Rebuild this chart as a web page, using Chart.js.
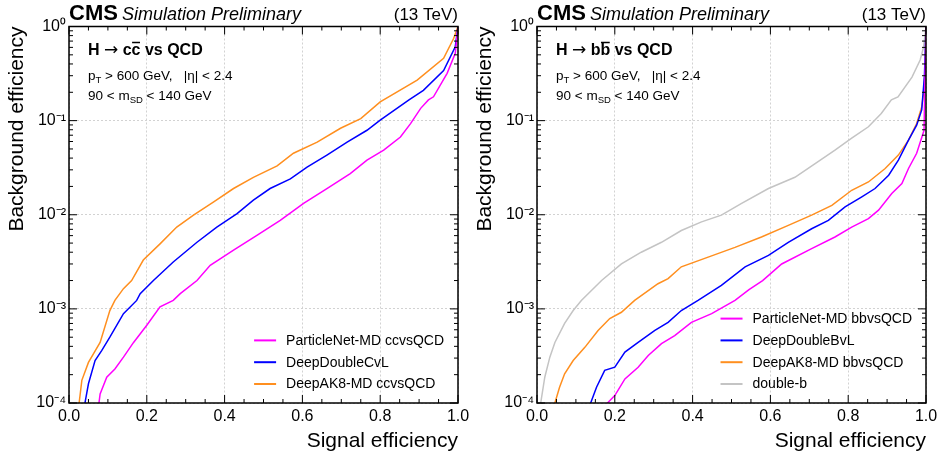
<!DOCTYPE html>
<html><head><meta charset="utf-8">
<script src="https://cdn.jsdelivr.net/npm/chart.js@4.4.1/dist/chart.umd.min.js"></script>
<style>
html,body{margin:0;padding:0;background:#fff;}
#wrap{position:relative;width:938px;height:456px;overflow:hidden;background:#fff;}
.p{position:absolute;top:0;width:469px;height:456px;}
</style></head><body>
<div id="wrap">
<div class="p" style="left:0"><canvas id="c1" width="469" height="456"></canvas></div>
<div class="p" style="left:468px"><canvas id="c2" width="469" height="456"></canvas></div>
</div>
<script>
// ---------- data ----------
const xTickValues = [0, 0.2, 0.4, 0.6, 0.8, 1.0];
const yTickValues = [1e-4, 1e-3, 1e-2, 1e-1, 1];
const xTitle = 'Signal efficiency';
const yTitle = 'Background efficiency';

// H -> cc vs QCD
const ccLabels = ['ParticleNet-MD ccvsQCD', 'DeepDoubleCvL', 'DeepAK8-MD ccvsQCD'];
const ccPNetSig = [0.074,0.077,0.080,0.097,0.118,0.140,0.166,0.200,0.234,0.268,0.286,0.329,0.363,0.423,0.483,0.543,0.603,0.663,0.723,0.766,0.809,0.852,0.878,0.904,0.924,0.937,0.972,0.993,1.0];
const ccPNetBkg = [7e-5,1e-4,1.25e-4,1.88e-4,2.3e-4,3.07e-4,4.4e-4,6.7e-4,1.05e-3,1.23e-3,1.45e-3,2.0e-3,2.9e-3,4.2e-3,6.05e-3,8.7e-3,1.32e-2,1.9e-2,2.74e-2,3.8e-2,4.85e-2,6.7e-2,9.3e-2,0.135,0.166,0.179,0.318,0.52,1.0];
const ccDDSig = [0.036,0.041,0.050,0.067,0.084,0.105,0.140,0.174,0.183,0.217,0.268,0.329,0.380,0.432,0.474,0.517,0.569,0.612,0.663,0.715,0.766,0.800,0.874,0.911,0.963,0.993,1.0];
const ccDDBkg = [7e-5,1e-4,1.6e-4,2.83e-4,3.6e-4,5.0e-4,8.9e-4,1.23e-3,1.45e-3,2.0e-3,3.15e-3,5.1e-3,7.4e-3,1.03e-2,1.43e-2,1.9e-2,2.4e-2,3.2e-2,4.3e-2,5.9e-2,7.9e-2,0.101,0.166,0.21,0.34,0.61,1.0];
const ccAK8Sig = [0.020,0.026,0.033,0.050,0.080,0.105,0.118,0.140,0.161,0.191,0.234,0.277,0.320,0.372,0.423,0.474,0.535,0.577,0.638,0.698,0.750,0.800,0.895,0.963,0.989,1.0];
const ccAK8Bkg = [7e-5,1e-4,1.74e-4,2.7e-4,4.4e-4,9.6e-4,1.23e-3,1.64e-3,2.0e-3,3.3e-3,4.9e-3,7.4e-3,9.9e-3,1.37e-2,1.9e-2,2.5e-2,3.3e-2,4.5e-2,5.9e-2,8.3e-2,0.105,0.158,0.27,0.46,0.75,1.0];

// H -> bb vs QCD
const bbLabels = ['ParticleNet-MD bbvsQCD', 'DeepDoubleBvL', 'DeepAK8-MD bbvsQCD', 'double-b'];
const bbPNetSig = [0.176,0.181,0.200,0.226,0.260,0.286,0.320,0.354,0.397,0.449,0.509,0.545,0.580,0.629,0.706,0.766,0.809,0.852,0.878,0.912,0.938,0.955,0.976,0.995,1.0];
const bbPNetBkg = [7e-5,1e-4,1.2e-4,1.8e-4,2.4e-4,3.2e-4,4.27e-4,5.2e-4,7.2e-4,8.9e-4,1.23e-3,1.6e-3,2.0e-3,3.0e-3,4.37e-3,5.8e-3,7.4e-3,9.1e-3,1.12e-2,1.68e-2,2.15e-2,3.1e-2,4.5e-2,7.9e-2,1.0];
const bbDDSig = [0.132,0.138,0.153,0.174,0.200,0.226,0.260,0.303,0.337,0.371,0.414,0.474,0.535,0.595,0.646,0.706,0.749,0.792,0.835,0.869,0.904,0.929,0.955,0.976,0.989,0.996,1.0];
const bbDDBkg = [7e-5,1e-4,1.47e-4,2.22e-4,2.4e-4,3.47e-4,4.4e-4,5.9e-4,7.2e-4,9.6e-4,1.23e-3,1.78e-3,2.8e-3,3.7e-3,5.1e-3,7.1e-3,8.7e-3,1.21e-2,1.55e-2,1.9e-2,2.63e-2,3.8e-2,6.2e-2,8.95e-2,0.13,0.3,1.0];
const bbAK8Sig = [0.040,0.046,0.058,0.071,0.093,0.123,0.157,0.187,0.217,0.251,0.311,0.337,0.371,0.440,0.509,0.577,0.646,0.706,0.758,0.809,0.852,0.895,0.929,0.955,0.976,0.989,0.994,0.998,1.0];
const bbAK8Bkg = [7e-5,1e-4,1.47e-4,2.04e-4,2.83e-4,3.9e-4,5.9e-4,7.9e-4,9.2e-4,1.23e-3,1.85e-3,2.1e-3,2.8e-3,3.55e-3,4.5e-3,5.8e-3,7.7e-3,9.9e-3,1.26e-2,1.82e-2,2.23e-2,3.1e-2,4.3e-2,6.2e-2,9.3e-2,0.14,0.2,0.37,1.0];
const bbDbSig = [0.005,0.0095,0.020,0.033,0.046,0.071,0.093,0.114,0.166,0.217,0.268,0.320,0.371,0.423,0.474,0.526,0.595,0.663,0.715,0.766,0.809,0.852,0.885,0.911,0.928,0.964,0.985,0.994,1.0];
const bbDbBkg = [6e-5,1e-4,1.88e-4,3.07e-4,4.4e-4,7.0e-4,9.6e-4,1.23e-3,2.0e-3,3.0e-3,4.0e-3,5.1e-3,6.8e-3,8.4e-3,9.9e-3,1.32e-2,1.9e-2,2.5e-2,3.5e-2,4.85e-2,6.5e-2,8.6e-2,0.119,0.166,0.179,0.29,0.44,0.61,1.0];

// ---------- styling ----------
const FONT = "'Liberation Sans', Arial, Helvetica, sans-serif";
const cMagenta = '#ff00ff', cBlue = '#0000ff', cOrange = '#ff8f1f', cGray = '#c4c4c4';
const SUP = {'-':'\u207B','0':'\u2070','1':'\u00B9','2':'\u00B2','3':'\u00B3','4':'\u2074'};

function pts(xs, ys){ return xs.map((x,i)=>({x:x, y:ys[i]})); }
function ds(label, xs, ys, color){
  return {label, data: pts(xs, ys), borderColor: color, backgroundColor: color,
          borderWidth: 1.5, pointRadius: 0, tension: 0, fill: false, clip: 0};
}

function line(ctx,x1,y1,x2,y2){ ctx.beginPath(); ctx.moveTo(x1,y1); ctx.lineTo(x2,y2); ctx.stroke(); }

const decor = {
  id: 'decor',
  afterDatasetsDraw(chart, args, opts){
    const {ctx, chartArea:a, scales:{x, y}} = chart;
    ctx.save();
    // inward ticks on all four sides
    ctx.strokeStyle = '#000'; ctx.lineWidth = 1;
    for (let i = 0; i <= 20; i++){
      const v = i*0.05, px = x.getPixelForValue(v), L = (i%4===0) ? 8 : 4;
      line(ctx, px, a.bottom, px, a.bottom-L);
      line(ctx, px, a.top, px, a.top+L);
    }
    for (let e = -4; e <= 0; e++){
      for (let m = 1; m <= 9; m++){
        const v = m*Math.pow(10,e); if (v > 1.0001) break;
        const py = y.getPixelForValue(v), L = (m===1) ? 8 : 4;
        line(ctx, a.left, py, a.left+L, py);
        line(ctx, a.right, py, a.right-L, py);
      }
    }
    // frame
    ctx.lineWidth = 1.5;
    ctx.strokeRect(a.left, a.top, a.right-a.left, a.bottom-a.top);

    // header
    ctx.fillStyle = '#000'; ctx.textBaseline = 'alphabetic'; ctx.textAlign = 'left';
    ctx.font = 'bold 22px ' + FONT;
    ctx.fillText('CMS', a.left, 19.5);
    const w = ctx.measureText('CMS').width;
    ctx.font = 'italic 18px ' + FONT;
    ctx.fillText('Simulation Preliminary', a.left + w + 4, 19.5);
    ctx.textAlign = 'right'; ctx.font = '17px ' + FONT;
    ctx.fillText('(13 TeV)', a.right, 19.5);

    // process label: 'H', arrow, 'q', 'q-bar', ' vs QCD'
    ctx.textAlign = 'left';
    const tx = a.left + 19;
    let cx = tx;
    const seg = (t, font, dy) => { ctx.font = font; ctx.fillText(t, cx, dy); const ww = ctx.measureText(t).width; cx += ww; return ww; };
    seg('H ', 'bold 16px ' + FONT, 55);
    seg('\u2192', "17px 'DejaVu Sans', sans-serif", 55);
    seg(' ' + opts.quark, 'bold 16px ' + FONT, 55);
    const bx = cx;
    const bw = seg(opts.quark, 'bold 16px ' + FONT, 55);
    seg(' vs QCD', 'bold 16px ' + FONT, 55);
    ctx.lineWidth = 1.5;
    line(ctx, bx+0.5, 42.5, bx+bw-0.5, 42.5);

    // cuts
    cx = tx;
    seg('p', '13.5px ' + FONT, 80); seg('T', '9.5px ' + FONT, 83); seg(' > 600 GeV,   |\u03B7| < 2.4', '13.5px ' + FONT, 80);
    cx = tx;
    seg('90 < m', '13.5px ' + FONT, 100); seg('SD', '9.5px ' + FONT, 103); seg(' < 140 GeV', '13.5px ' + FONT, 100);

    // legend (bottom right, inside the frame)
    const n = chart.data.datasets.length;
    ctx.font = '14px ' + FONT;
    let maxW = 0;
    chart.data.datasets.forEach(d => { maxW = Math.max(maxW, ctx.measureText(d.label).width); });
    const textX = a.right - 14 - maxW;
    const lineX = textX - 32;
    ctx.textBaseline = 'middle';
    chart.data.datasets.forEach((d, i) => {
      const yy = 384 - (n-1-i)*21.8;
      ctx.strokeStyle = d.borderColor; ctx.lineWidth = 2;
      line(ctx, lineX, yy, lineX + 22, yy);
      ctx.fillStyle = '#000';
      ctx.fillText(d.label, textX, yy + 0.5);
    });
    ctx.restore();
  }
};

function makeChart(id, datasets, quark){
  return new Chart(document.getElementById(id), {
    type: 'line',
    data: { datasets },
    options: {
      responsive: false, animation: false, events: [], devicePixelRatio: 1,
      layout: { padding: { top: 26.5, right: 11, left: 0, bottom: 0 } },
      plugins: { legend: { display: false }, tooltip: { enabled: false }, decor: { quark } },
      scales: {
        x: {
          type: 'linear', min: 0, max: 1,
          afterBuildTicks: s => { s.ticks = xTickValues.map(v => ({value: v})); },
          afterFit: s => { s.height = 53; s.paddingLeft = 0; s.paddingRight = 0; },
          ticks: { autoSkip: false, maxRotation: 0, padding: 4, color: '#000',
                   font: { family: FONT, size: 16 }, callback: v => Number(v).toFixed(1) },
          grid: { color: '#d2d2d2', lineWidth: 1, drawTicks: false },
          border: { display: false, dash: [2, 2] },
          title: { display: true, text: xTitle, align: 'end', color: '#000',
                   font: { family: FONT, size: 21 }, padding: { top: 0, bottom: 2 } }
        },
        y: {
          type: 'logarithmic', min: 1e-4, max: 1,
          afterBuildTicks: s => { s.ticks = yTickValues.map(v => ({value: v})); },
          afterFit: s => { s.width = 69; s.paddingTop = 0; s.paddingBottom = 0; },
          ticks: { autoSkip: false, padding: 3, color: '#000',
                   font: { family: FONT, size: 16 },
                   callback: v => { const e = Math.round(Math.log10(v)); return '10' + String(e).split('').map(c => SUP[c]).join(''); } },
          grid: { color: '#d2d2d2', lineWidth: 1, drawTicks: false },
          border: { display: false, dash: [2, 2] },
          title: { display: true, text: yTitle, align: 'end', color: '#000',
                   font: { family: FONT, size: 21 }, padding: { top: 5, bottom: 0 } }
        }
      }
    },
    plugins: [decor]
  });
}

makeChart('c1', [
  ds(ccLabels[0], ccPNetSig, ccPNetBkg, cMagenta),
  ds(ccLabels[1], ccDDSig, ccDDBkg, cBlue),
  ds(ccLabels[2], ccAK8Sig, ccAK8Bkg, cOrange)
], 'c');

makeChart('c2', [
  ds(bbLabels[0], bbPNetSig, bbPNetBkg, cMagenta),
  ds(bbLabels[1], bbDDSig, bbDDBkg, cBlue),
  ds(bbLabels[2], bbAK8Sig, bbAK8Bkg, cOrange),
  ds(bbLabels[3], bbDbSig, bbDbBkg, cGray)
], 'b');
</script>
</body></html>
